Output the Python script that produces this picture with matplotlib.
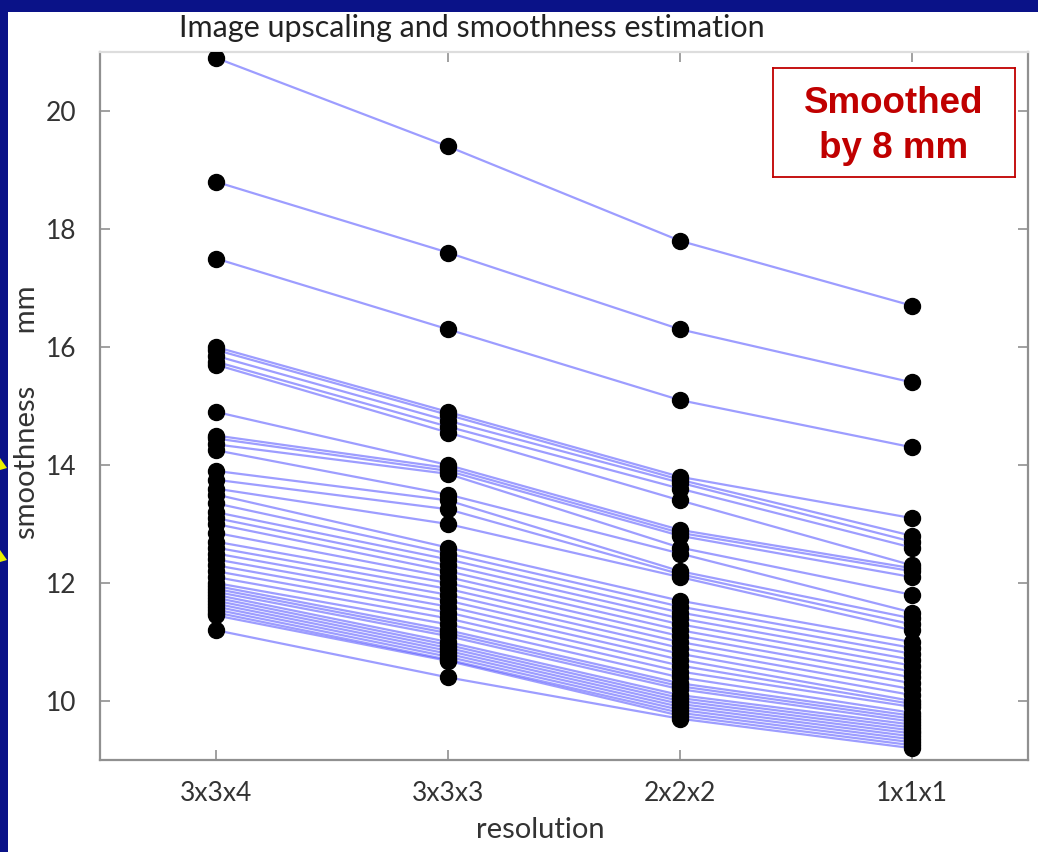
import matplotlib
matplotlib.use("Agg")
import matplotlib.pyplot as plt
from matplotlib.patches import Rectangle, Polygon
import numpy as np

# Resolution categories along the x axis
resolutions = ["3x3x4", "3x3x3", "2x2x2", "1x1x1"]

# Estimated smoothness (mm) of each image at each resolution
smooth_3x3x4 = [20.9, 18.8, 17.5, 16.0, 15.95, 15.85, 15.75, 15.7, 14.9, 14.5,
                14.45, 14.35, 14.25, 13.9, 13.75, 13.6, 13.5, 13.35, 13.2, 13.1,
                13.0, 12.85, 12.7, 12.6, 12.5, 12.4, 12.3, 12.2, 12.1, 12.0,
                11.95, 11.9, 11.85, 11.8, 11.75, 11.7, 11.65, 11.6, 11.55, 11.5,
                11.45, 11.2]
smooth_3x3x3 = [19.4, 17.6, 16.3, 14.9, 14.85, 14.75, 14.65, 14.55, 14.0, 13.95,
                13.9, 13.85, 13.5, 13.4, 13.25, 13.0, 12.6, 12.5, 12.4, 12.3,
                12.2, 12.1, 12.0, 11.9, 11.8, 11.7, 11.6, 11.5, 11.4, 11.3,
                11.2, 11.15, 11.1, 11.0, 10.95, 10.9, 10.85, 10.8, 10.75, 10.7,
                10.68, 10.4]
smooth_2x2x2 = [17.8, 16.3, 15.1, 13.8, 13.75, 13.7, 13.6, 13.4, 12.9, 12.85,
                12.8, 12.6, 12.5, 12.2, 12.15, 12.1, 11.7, 11.6, 11.5, 11.4,
                11.3, 11.2, 11.1, 11.0, 10.9, 10.8, 10.7, 10.6, 10.5, 10.4,
                10.3, 10.25, 10.2, 10.1, 10.05, 10.0, 9.95, 9.9, 9.85, 9.8,
                9.75, 9.7]
smooth_1x1x1 = [16.7, 15.4, 14.3, 13.1, 12.8, 12.7, 12.6, 12.3, 12.25, 12.2,
                12.1, 11.8, 11.5, 11.4, 11.3, 11.2, 11.0, 10.9, 10.8, 10.7,
                10.6, 10.5, 10.4, 10.3, 10.2, 10.1, 10.0, 9.95, 9.9, 9.8,
                9.75, 9.7, 9.65, 9.6, 9.55, 9.5, 9.45, 9.4, 9.35, 9.3,
                9.25, 9.2]

y_ticks = [10, 12, 14, 16, 18, 20]

NAVY = "#0a1288"
GRAY_TXT = "#333333"
SPINE = "#909090"
RED = "#c00000"
COND = ["Lato", "DejaVu Sans"]

W, H = 1038, 852
fig = plt.figure(figsize=(W / 100, H / 100), dpi=100)
fig.patch.set_facecolor(NAVY)

# white slide panel behind everything
fig.patches.append(Rectangle((8 / W, 0), 1 - 8 / W, 1 - 12 / H,
                             transform=fig.transFigure, facecolor="white",
                             edgecolor="none", zorder=-10))
# small yellow arrow tips at the slide edge
for yc in (468, 560):
    fig.patches.append(Polygon([(0, 1 - (yc - 10) / H), (7 / W, 1 - yc / H),
                                (0, 1 - (yc + 2) / H)],
                               closed=True, transform=fig.transFigure,
                               facecolor="#e8f000", edgecolor="none", zorder=-5))

ax = fig.add_axes([100 / W, 1 - 760 / H, 928 / W, 708 / H])
ax.set_zorder(1)
ax.set_facecolor("white")

x = np.arange(1, len(resolutions) + 1)
table = np.array([smooth_3x3x4, smooth_3x3x3, smooth_2x2x2, smooth_1x1x1])

for row in table.T:
    ax.plot(x, row, color=(0.3, 0.3, 1.0), alpha=0.55, lw=1.6, zorder=2,
            solid_capstyle="round")
for i, col in enumerate(table):
    ax.plot(np.full(len(col), x[i]), col, "o", color="black", ms=11.5,
            mec="black", zorder=3, linestyle="none")

ax.set_xlim(0.5, 4.5)
ax.set_ylim(9.0, 21.0)
ax.set_xticks(x)
ax.set_xticklabels(resolutions)
ax.set_yticks(y_ticks)
ax.tick_params(direction="in", length=7, width=1.2, color=SPINE,
               top=True, right=True, labelsize=19, labelcolor=GRAY_TXT)
ax.tick_params(axis="x", pad=15)
ax.tick_params(axis="y", pad=17)
for lab in ax.get_xticklabels() + ax.get_yticklabels():
    lab.set_family(COND)
for side, sp in ax.spines.items():
    sp.set_color(SPINE if side != "top" else "#dddddd")
    sp.set_linewidth(1.6)

fig.text(472 / W, 1 - 28 / H, "Image upscaling and smoothness estimation",
         ha="center", va="center", fontsize=22, color="#222222", family=COND)
fig.text(540 / W, 1 - 830 / H, "resolution", ha="center", va="center",
         fontsize=21, color=GRAY_TXT, family=COND)
fig.text(27 / W, 1 - 412 / H, "smoothness       mm", ha="center", va="center",
         rotation=90, fontsize=21, color=GRAY_TXT, family=COND)

# annotation box, drawn on top of the axes
ax_box = fig.add_axes([773 / W, 1 - 177 / H, 242 / W, 109 / H])
ax_box.set_zorder(5)
ax_box.set_xticks([])
ax_box.set_yticks([])
ax_box.set_facecolor("white")
for sp in ax_box.spines.values():
    sp.set_color(RED)
    sp.set_linewidth(1.3)
ax_box.text(0.5, 0.47, "Smoothed\nby 8 mm", ha="center", va="center",
            transform=ax_box.transAxes, fontsize=26.5, fontweight="bold",
            color=RED, family="Liberation Sans", linespacing=1.38)

fig.savefig("out.png", dpi=100, facecolor=fig.get_facecolor())
